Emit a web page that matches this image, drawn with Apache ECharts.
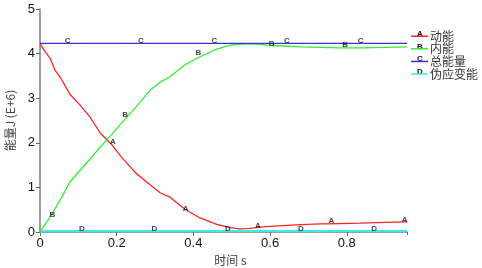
<!DOCTYPE html>
<html>
<head>
<meta charset="utf-8">
<script src="https://cdn.jsdelivr.net/npm/echarts@6/dist/echarts.min.js"></script>
<style>
  html, body { margin: 0; padding: 0; background: #fff; }
  #chart { width: 482px; height: 268px; }
</style>
</head>
<body>
<div id="chart"></div>
<script>
var names = ['动能', '内能', '总能量', '伪应变能'];
var letters = ['A', 'B', 'C', 'D'];
var colors = ['#ff2222', '#33ee33', '#3333dd', '#33eeee'];

// time (s)
var time = [0, 0.013, 0.026, 0.039, 0.052, 0.078, 0.104, 0.13, 0.157, 0.188, 0.21, 0.25,
  0.287, 0.313, 0.339, 0.378, 0.417, 0.461, 0.496, 0.52, 0.548, 0.574, 0.59, 0.634, 0.68,
  0.73, 0.78, 0.835, 0.9, 0.957];
// energy values (E+6 J)
var kinetic = [4.22, 4.05, 3.9, 3.63, 3.48, 3.09, 2.85, 2.58, 2.22, 1.95, 1.7, 1.32,
  1.06, 0.88, 0.78, 0.51, 0.315, 0.17, 0.1, 0.07, 0.08, 0.11, 0.12, 0.145, 0.165,
  0.18, 0.19, 0.2, 0.215, 0.225];
var internal = [0, 0.17, 0.33, 0.52, 0.71, 1.12, 1.38, 1.63, 1.9, 2.2, 2.42, 2.8,
  3.18, 3.36, 3.48, 3.75, 3.93, 4.1, 4.19, 4.21, 4.22, 4.21, 4.19, 4.17, 4.15,
  4.14, 4.13, 4.13, 4.14, 4.15];
var total = [4.23, 4.23, 4.23, 4.23, 4.23, 4.23, 4.23, 4.23, 4.23, 4.23, 4.23, 4.23,
  4.23, 4.23, 4.23, 4.23, 4.23, 4.23, 4.23, 4.23, 4.23, 4.23, 4.23, 4.23, 4.23,
  4.23, 4.23, 4.23, 4.23, 4.23];
var artificial = [0, 0.02, 0.02, 0.02, 0.02, 0.02, 0.02, 0.02, 0.02, 0.02, 0.02, 0.02,
  0.02, 0.02, 0.02, 0.02, 0.02, 0.02, 0.02, 0.02, 0.02, 0.02, 0.02, 0.02, 0.02,
  0.02, 0.02, 0.02, 0.02, 0.02];

// curve id letters as drawn on the plot: [time, value]
var markA = [[0.19, 2.03], [0.38, 0.51], [0.568, 0.15], [0.76, 0.25], [0.951, 0.28]];
var markB = [[0.032, 0.375], [0.222, 2.62], [0.413, 4.02], [0.604, 4.23], [0.796, 4.2]];
var markC = [[0.072, 4.28], [0.263, 4.28], [0.455, 4.28], [0.644, 4.28], [0.836, 4.28]];
var markD = [[0.109, 0.075], [0.298, 0.075], [0.49, 0.075], [0.68, 0.075], [0.871, 0.075]];

var xMax = 0.957;

var chartDom = document.getElementById('chart');
var myChart = echarts.init(chartDom);

function pairs(vals) {
  return time.map(function (t, i) { return [t, vals[i]]; });
}

var lineData = [kinetic, internal, total, artificial];
var marks = [markA, markB, markC, markD];

var series = [];
lineData.forEach(function (vals, i) {
  series.push({
    name: names[i],
    type: 'line',
    data: pairs(vals),
    showSymbol: false,
    symbol: 'none',
    smooth: false,
    lineStyle: { color: colors[i], width: i == 3 ? 2 : 1.3 },
    itemStyle: { color: colors[i] },
    z: i == 3 ? 1 : 3
  });
});
marks.forEach(function (pts, i) {
  series.push({
    type: 'scatter',
    data: pts,
    symbolSize: 0,
    silent: true,
    label: {
      show: true,
      position: 'inside',
      formatter: letters[i],
      fontSize: 8,
      fontWeight: 'bold',
      color: '#111',
      fontFamily: 'Liberation Sans'
    },
    z: 5
  });
});

var gray = '#999';

var option = {
  animation: false,
  textStyle: { fontFamily: 'Liberation Sans' },
  grid: { left: 40, right: 75, top: 9, bottom: 36, outerBoundsMode: 'none' },
  legend: {
    orient: 'vertical',
    left: 411,
    top: 27,
    padding: 0,
    icon: 'rect',
    itemWidth: 17,
    itemHeight: 1.5,
    itemGap: -5.9,
    data: names,
    textStyle: {
      fontFamily: 'Noto Sans CJK SC',
      fontSize: 12,
      lineHeight: 12.5,
      color: '#333',
      padding: [0, 0, 6, -3]
    }
  },
  graphic: letters.map(function (l, i) {
    return {
      type: 'text',
      x: 420,
      y: 33.8 + i * 12.6,
      style: {
        text: l, fontSize: 8, fontWeight: 'bold', fill: '#111',
        fontFamily: 'Liberation Sans', align: 'center', verticalAlign: 'middle'
      }
    };
  }),
  xAxis: [
    {
      type: 'value',
      min: 0,
      max: xMax,
      interval: 0.2,
      name: '时间 s',
      nameLocation: 'middle',
      nameGap: 20,
      nameTextStyle: { fontFamily: 'Noto Sans CJK SC', fontSize: 12, color: '#444', padding: [0, 0, 0, 14] },
      axisLine: { show: true, lineStyle: { color: gray, width: 1.5 } },
      axisTick: { show: true, inside: false, length: 4, lineStyle: { color: '#666' } },
      axisLabel: { color: '#111', fontSize: 13, margin: 5, showMaxLabel: false },
      splitLine: { show: false }
    },
    {
      type: 'value',
      position: 'top',
      min: 0,
      max: xMax,
      interval: 0.2,
      axisLine: { show: true, lineStyle: { color: gray, width: 1.5 } },
      axisTick: { show: true, inside: true, length: 3, lineStyle: { color: '#666' } },
      axisLabel: { show: false },
      splitLine: { show: false }
    }
  ],
  yAxis: [
    {
      type: 'value',
      min: 0,
      max: 5,
      interval: 1,
      name: '能量J (E+6)',
      nameLocation: 'middle',
      nameRotate: 90,
      nameGap: 24,
      nameTextStyle: { fontFamily: 'Noto Sans CJK SC', fontSize: 12, color: '#444' },
      axisLine: { show: true, lineStyle: { color: gray, width: 1.5 } },
      axisTick: { show: true, inside: false, length: 4, lineStyle: { color: '#666' } },
      axisLabel: { color: '#111', fontSize: 13, margin: 5 },
      splitLine: { show: false }
    },
    {
      type: 'value',
      position: 'right',
      min: 0,
      max: 5,
      interval: 1,
      axisLine: { show: true, lineStyle: { color: gray, width: 1.5 } },
      axisTick: { show: true, inside: true, length: 3, lineStyle: { color: '#666' } },
      axisLabel: { show: false },
      splitLine: { show: false }
    }
  ],
  series: series
};

option && myChart.setOption(option);
window.addEventListener('resize', function () {
  myChart.resize();
});
</script>
</body>
</html>
